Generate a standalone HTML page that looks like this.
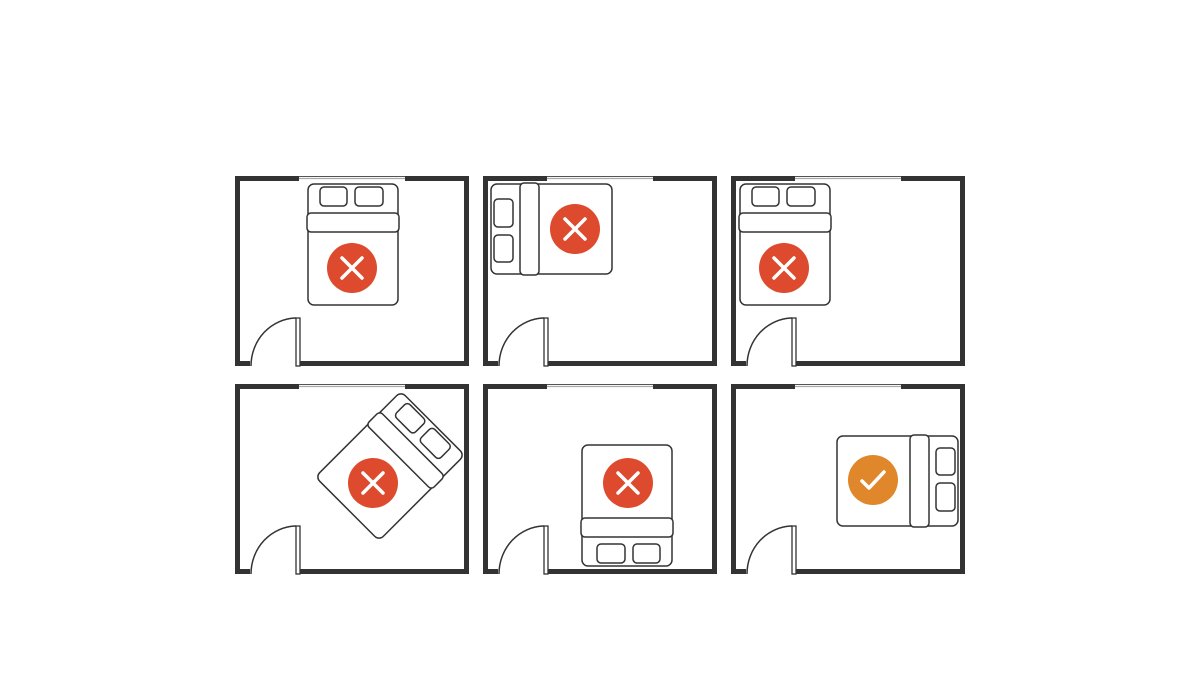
<!DOCTYPE html>
<html><head><meta charset="utf-8"><style>html,body{margin:0;padding:0;background:#fff}svg{display:block}</style></head>
<body>
<svg width="1200" height="700" viewBox="0 0 1200 700" xmlns="http://www.w3.org/2000/svg">
<defs>
<g id="room">
  <rect x="237.5" y="178.5" width="229" height="185" fill="#fff" stroke="#333" stroke-width="5"/>
  <rect x="299" y="175" width="106" height="7" fill="#fff"/>
  <line x1="299" y1="178.5" x2="405" y2="178.5" stroke="#aaa" stroke-width="1.2"/>
  <line x1="299" y1="176.5" x2="405" y2="176.5" stroke="#555" stroke-width="1"/>
  <rect x="250" y="360" width="46" height="8" fill="#fff"/>
  <rect x="296" y="318" width="4" height="48" fill="#fff" stroke="#333" stroke-width="1.3"/>
  <path d="M251,366 A46,48 0 0 1 296,318" fill="none" stroke="#333" stroke-width="1.5"/>
</g>
<g id="bed">
  <rect x="0" y="0" width="90" height="121" rx="6" fill="#fff" stroke="#333" stroke-width="1.5"/>
  <rect x="12" y="3" width="27" height="19" rx="4" fill="#fff" stroke="#333" stroke-width="1.5"/>
  <rect x="47" y="3" width="28" height="19" rx="4" fill="#fff" stroke="#333" stroke-width="1.5"/>
  <rect x="-1" y="29" width="92" height="19" rx="4" fill="#fff" stroke="#333" stroke-width="1.5"/>
</g>
<g id="x">
  <circle cx="0" cy="0" r="25" fill="#de4a2d"/>
  <path d="M-10,-10 L10,10 M10,-10 L-10,10" stroke="#fff" stroke-width="3.5" stroke-linecap="round"/>
</g>
</defs>
<use href="#room"/>
<use href="#room" transform="translate(248,0)"/>
<use href="#room" transform="translate(496,0)"/>
<use href="#room" transform="translate(0,208)"/>
<use href="#room" transform="translate(248,208)"/>
<use href="#room" transform="translate(496,208)"/>

<use href="#bed" transform="translate(308,184)"/>
<use href="#x" transform="translate(352,268)"/>

<use href="#bed" transform="translate(491,274) rotate(-90)"/>
<use href="#x" transform="translate(575,229)"/>

<use href="#bed" transform="translate(740,184)"/>
<use href="#x" transform="translate(784,268)"/>

<use href="#bed" transform="translate(390,466) rotate(45) translate(-45,-60.5)"/>
<use href="#x" transform="translate(373,483)"/>

<use href="#bed" transform="translate(672,566) rotate(180)"/>
<use href="#x" transform="translate(628,483)"/>

<use href="#bed" transform="translate(958,436) rotate(90)"/>
<circle cx="873" cy="480" r="25" fill="#e0872c"/>
<path d="M862,481 L869,488 L884,472" fill="none" stroke="#fff" stroke-width="3.5" stroke-linecap="round" stroke-linejoin="round"/>
</svg>
</body></html>
